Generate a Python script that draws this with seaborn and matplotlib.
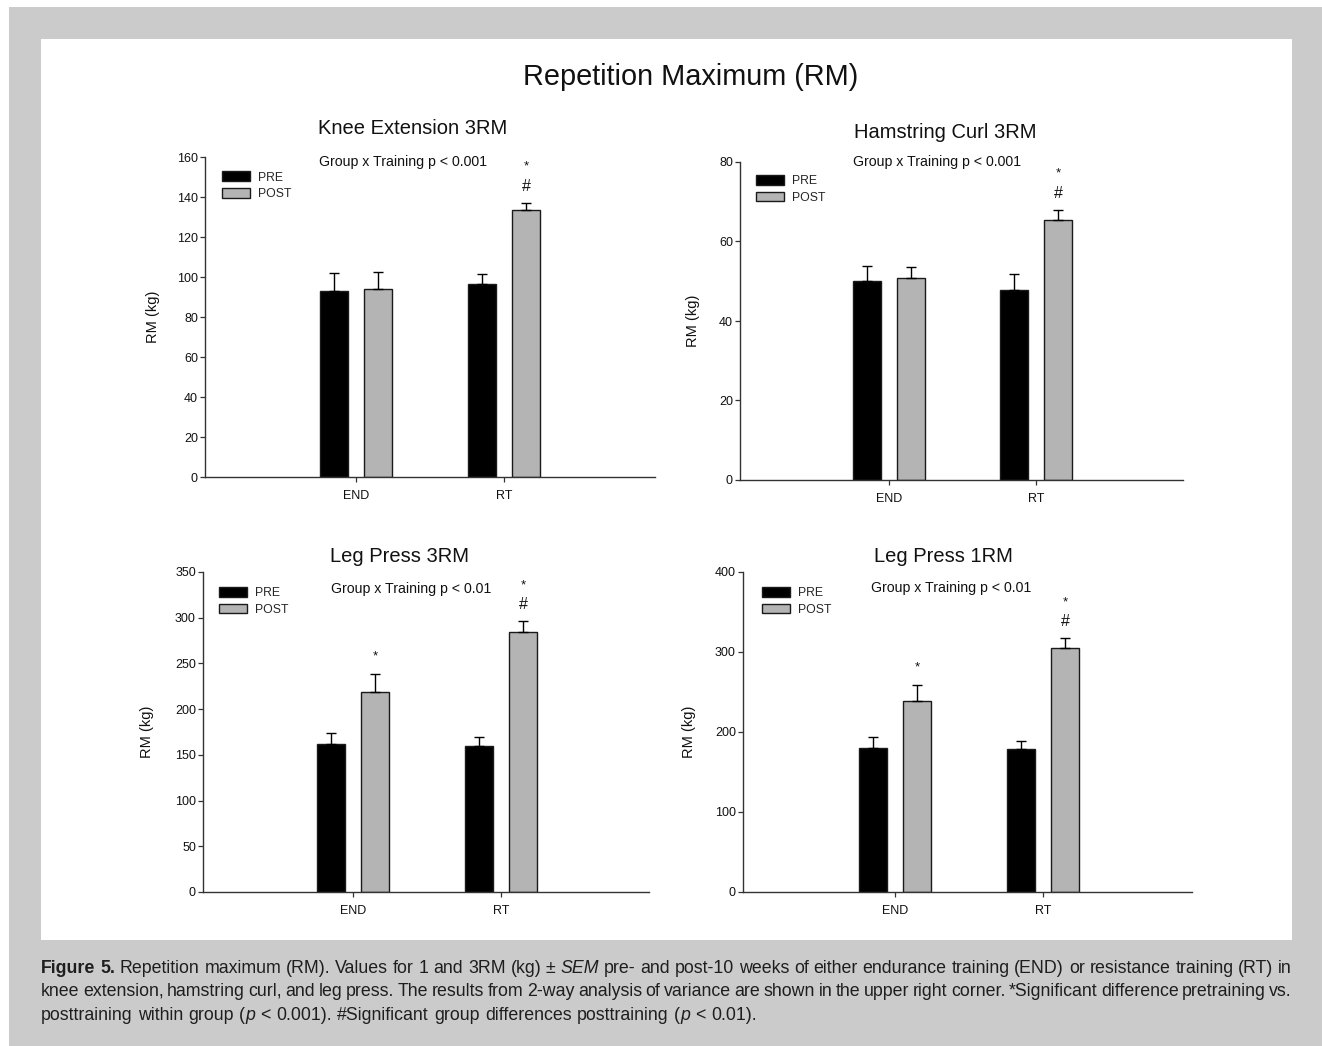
import matplotlib
matplotlib.use("Agg")
import matplotlib.pyplot as plt
import seaborn as sns
import pandas as pd
import numpy as np
from matplotlib.patches import Rectangle, Patch

# ---------------- data ----------------
groups = ["END", "RT"]
phases = ["PRE", "POST"]

knee_pre = [93.0, 96.5]
knee_post = [94.0, 133.4]
knee_pre_sem = [9.2, 5.2]
knee_post_sem = [8.3, 3.8]

ham_pre = [50.0, 47.8]
ham_post = [50.8, 65.3]
ham_pre_sem = [3.8, 3.9]
ham_post_sem = [2.9, 2.7]

lp3_pre = [161.9, 160.0]
lp3_post = [219.2, 284.6]
lp3_pre_sem = [11.6, 9.9]
lp3_post_sem = [19.4, 11.7]

lp1_pre = [180.0, 178.7]
lp1_post = [238.8, 304.8]
lp1_pre_sem = [14.2, 10.0]
lp1_post_sem = [20.1, 12.9]

titles = ["Knee Extension 3RM", "Hamstring Curl 3RM", "Leg Press 3RM", "Leg Press 1RM"]
pvalue_texts = ["Group x Training p < 0.001", "Group x Training p < 0.001",
                "Group x Training p < 0.01", "Group x Training p < 0.01"]
y_ticks = [[0, 20, 40, 60, 80, 100, 120, 140, 160],
           [0, 20, 40, 60, 80],
           [0, 50, 100, 150, 200, 250, 300, 350],
           [0, 100, 200, 300, 400]]
star_groups = [["RT"], ["RT"], ["END", "RT"], ["END", "RT"]]   # * above POST bar
hash_groups = [["RT"], ["RT"], ["RT"], ["RT"]]                 # # above POST bar

# ---------------- layout (pixels) ----------------
W, H = 1322, 1046
# left, top, right, bottom, END tick x, RT tick x
layouts = [(205, 157, 655, 477, 356, 504),
           (740, 162, 1183, 480, 889, 1036),
           (203, 572, 649, 892, 353, 501),
           (743, 572, 1192, 892, 895, 1043)]
title_pos = [(413, 129), (945, 133), (400, 557), (943, 557)]
ptext_pos = [(319, 162), (853, 162), (331, 589), (871, 588)]
legend_pos = [(222, 176.5), (756, 180), (219, 592), (762, 592)]
ylabel_dx = [52, 47, 56, 54]

PRE_COLOR = "black"
POST_COLOR = "#b4b4b4"
EDGE = "#1a1a1a"

sns.set_theme(style="ticks")
plt.rcParams["font.family"] = ["Liberation Sans", "DejaVu Sans"]

fig = plt.figure(figsize=(W / 100, H / 100), dpi=100)
fig.patch.set_facecolor("white")


def fx(px):
    return px / W


def fy(py):
    return 1 - py / H


# background boxes
fig.add_artist(Rectangle((fx(9), fy(1046)), (1322 - 9) / W, (1046 - 7) / H,
                         transform=fig.transFigure, facecolor="#cbcbcb",
                         edgecolor="none", zorder=-20))
fig.add_artist(Rectangle((fx(41), fy(940)), (1292 - 41) / W, (940 - 39) / H,
                         transform=fig.transFigure, facecolor="white",
                         edgecolor="none", zorder=-19))

fig.text(fx(691), fy(77), "Repetition Maximum (RM)", ha="center", va="center",
         fontsize=20.8, color="#111111")

panels = [
    (knee_pre, knee_post, knee_pre_sem, knee_post_sem),
    (ham_pre, ham_post, ham_pre_sem, ham_post_sem),
    (lp3_pre, lp3_post, lp3_pre_sem, lp3_post_sem),
    (lp1_pre, lp1_post, lp1_pre_sem, lp1_post_sem),
]

for i, (pre, post, pre_sem, post_sem) in enumerate(panels):
    L, T, R, B, xe, xr = layouts[i]
    aw, ah = R - L, B - T
    ax = fig.add_axes([fx(L), fy(B), aw / W, ah / H])
    ax.patch.set_alpha(0)
    df = pd.DataFrame({
        "group": groups + groups,
        "phase": ["PRE"] * len(groups) + ["POST"] * len(groups),
        "value": list(pre) + list(post),
    })
    sns.barplot(data=df, x="group", y="value", hue="phase", order=groups,
                hue_order=phases, palette={"PRE": PRE_COLOR, "POST": POST_COLOR},
                saturation=1, width=0.6, gap=0.36, edgecolor=EDGE, linewidth=1.0,
                errorbar=None, legend=False, ax=ax)

    # error bars (upper only)
    tops = {}
    for cont, sems, ph in zip(ax.containers, [pre_sem, post_sem], phases):
        xs = [p.get_x() + p.get_width() / 2 for p in cont]
        hs = [p.get_height() for p in cont]
        ax.errorbar(xs, hs, yerr=[np.zeros(len(sems)), sems], fmt="none",
                    ecolor="black", elinewidth=1.0, capsize=3.5, capthick=1.0,
                    zorder=3)
        for g, x, h, s in zip(groups, xs, hs, sems):
            tops[(g, ph)] = (x, h + s)

    # significance marks
    for g in groups:
        x, top = tops[(g, "POST")]
        has_hash = g in hash_groups[i]
        if has_hash:
            ax.annotate("#", xy=(x, top), xytext=(0, 8.4), textcoords="offset points",
                        ha="center", va="baseline", fontsize=11.5, color="#111111")
        if g in star_groups[i]:
            off = 23.6 if has_hash else 10.5
            ax.annotate("*", xy=(x, top), xytext=(0, off), textcoords="offset points",
                        ha="center", va="baseline", fontsize=9.5, color="#111111")

    ppu = xr - xe
    ax.set_xlim((L - xe) / ppu, (R - xe) / ppu)
    ax.set_ylim(0, y_ticks[i][-1])
    ax.set_yticks(y_ticks[i])
    ax.set_xlabel("")
    ax.set_ylabel("RM (kg)", fontsize=10.5, va="center", color="#111111")
    ax.yaxis.set_label_coords(-ylabel_dx[i] / aw, 0.5)
    sns.despine(ax=ax)
    for sp in ["left", "bottom"]:
        ax.spines[sp].set_linewidth(1.0)
        ax.spines[sp].set_color("#333333")
    ax.tick_params(axis="both", direction="out", length=3.6, width=0.9,
                   color="#333333", labelsize=9, labelcolor="#111111")
    ax.tick_params(axis="y", pad=1.5)
    ax.tick_params(axis="x", pad=5.5)

    cx, cy = title_pos[i]
    ax.set_title(titles[i], x=(cx - L) / aw, y=(B - cy) / ah, va="center",
                 ha="center", pad=0, fontsize=14.5, color="#111111")

    px, py = ptext_pos[i]
    ax.text((px - L) / aw, (B - py) / ah, pvalue_texts[i], transform=ax.transAxes,
            ha="left", va="center", fontsize=10.2, color="#111111")

    lx, ly = legend_pos[i]
    handles = [Patch(facecolor=PRE_COLOR, edgecolor=EDGE, linewidth=1.0),
               Patch(facecolor=POST_COLOR, edgecolor=EDGE, linewidth=1.0)]
    ax.legend(handles, phases, loc="upper left",
              bbox_to_anchor=((lx - L) / aw, (B - (ly - 5.0)) / ah),
              frameon=False, fontsize=8.8, handlelength=2.3, handleheight=0.85,
              handletextpad=0.62, labelspacing=0.36, borderpad=0, borderaxespad=0)

# ---------------- caption ----------------
CAP_FONT = ["Liberation Sans", "DejaVu Sans"]
STY = {"n": dict(weight="normal", style="normal"),
       "b": dict(weight="bold", style="normal"),
       "i": dict(weight="normal", style="italic")}
cap_lines = [
    [("Figure 5.", "b"),
     (" Repetition maximum (RM). Values for 1 and 3RM (kg) \u00b1 ", "n"),
     ("SEM", "i"),
     (" pre- and post-10 weeks of either endurance training (END) or resistance training (RT) in", "n")],
    [("knee extension, hamstring curl, and leg press. The results from 2-way analysis of variance "
      "are shown in the upper right corner. *Significant difference pretraining vs.", "n")],
    [("posttraining within group (", "n"), ("p", "i"),
     (" < 0.001). #Significant group differences posttraining (", "n"), ("p", "i"),
     (" < 0.01).", "n")],
]
cap_baselines = [973, 996, 1020]
cap_left, cap_right = 41, 1292

renderer = fig.canvas.get_renderer()


def tokenize(segs):
    words = [[]]
    for text, st in segs:
        parts = text.split(" ")
        for k, p in enumerate(parts):
            if k > 0:
                words.append([])
            if p:
                words[-1].append((p, st))
    return [w for w in words if w]


def measure(s, st, size):
    t = fig.text(0, 0, s, fontsize=size, family=CAP_FONT, **STY[st])
    w = t.get_window_extent(renderer).width
    t.remove()
    return w


def word_widths(words, size):
    return [sum(measure(p, st, size) for p, st in w) for w in words]


def space_px(size, em):
    return em * size * 100 / 72


base = 11.0
tok = [tokenize(l) for l in cap_lines]
ws2 = word_widths(tok[1], base)
need2 = sum(ws2) + space_px(base, 0.2) * (len(ws2) - 1)
cap_size = base * (cap_right - cap_left) / need2

for li, words in enumerate(tok):
    ws = word_widths(words, cap_size)
    if li < 2:
        gap = (cap_right - cap_left - sum(ws)) / (len(words) - 1)
    else:
        gap = space_px(cap_size, 0.30)
    x = cap_left
    for w, wwidth in zip(words, ws):
        xx = x
        for p, st in w:
            fig.text(fx(xx), fy(cap_baselines[li]), p, fontsize=cap_size, family=CAP_FONT,
                     va="baseline", ha="left", color="#1e1e1e", **STY[st])
            xx += measure(p, st, cap_size)
        x += wwidth + gap

fig.savefig("out.png", dpi=100, facecolor=fig.get_facecolor())
